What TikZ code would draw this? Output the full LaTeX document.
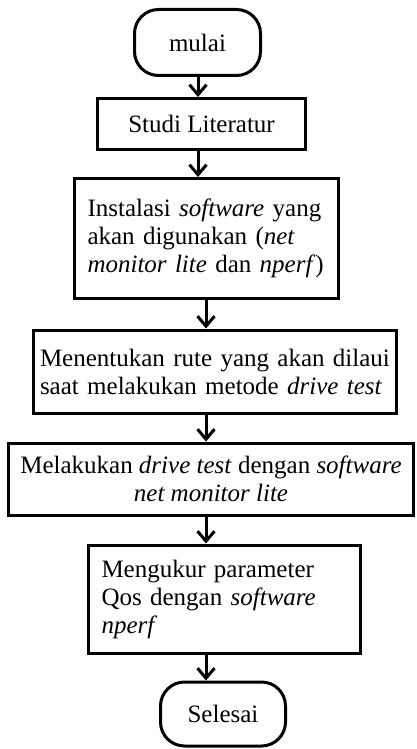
\documentclass[tikz,border=0pt]{standalone}
\usepackage{fontspec}
\setmainfont{Liberation Serif}
\usetikzlibrary{positioning}
\usetikzlibrary{arrows.meta}

\begin{document}
\begin{tikzpicture}[x=1pt,y=-1pt,->,>={Straight Barb[length=10pt,width=17pt]},line width=3pt,font=\fontsize{25}{28}\selectfont,term node/.style={rectangle,rounded corners=24pt,draw},step node/.style={rectangle,draw,inner xsep=10pt}]
\useasboundingbox (0,0) rectangle (417,749);
\node[term node,minimum width=126pt,minimum height=66pt] (mulai) at (197.5,42.5) {mulai};
\node[step node,minimum width=208pt,minimum height=51pt] (studi) [below = 20pt of mulai, xshift=4pt] {Studi Literatur};
\node[step node,minimum width=264pt,minimum height=120pt,text width=238pt,align=left] (instalasi) [below = 26pt of studi, xshift=5pt] {Instalasi \textit{software} yang\\ akan digunakan (\textit{net}\\ \textit{monitor lite} dan \textit{nperf})};
\node[step node,minimum width=363pt,minimum height=83pt,inner xsep=4pt,text width=350pt,align=left] (rute) [below = 28.5pt of instalasi, xshift=8.5pt] {Menentukan rute yang akan dilaui\\ saat melakukan metode \textit{drive test}};
\node[step node,minimum width=405pt,minimum height=72pt,inner xsep=4pt,align=center] (drivetest) [below = 27pt of rute, xshift=-4pt] {Melakukan \textit{drive test} dengan \textit{software}\\ \textit{net monitor lite}};
\node[step node,minimum width=272pt,minimum height=108pt,text width=246pt,align=left] (qos) [below = 27pt of drivetest, xshift=13.5pt] {Mengukur parameter\\ Qos dengan \textit{software}\\ \textit{nperf}};
\node[term node,minimum width=125pt,minimum height=64pt] (selesai) [below = 26pt of qos, xshift=-1.5pt] {Selesai};

\coordinate (colA) at (198,0);
\coordinate (colB) at (206,0);
\draw[->] (mulai.south -| colA) -- (studi.north -| colA);
\draw[->] (studi.south -| colA) -- (instalasi.north -| colA);
\draw[->] (instalasi.south -| colB) -- (rute.north -| colB);
\draw[->] (rute.south -| colB) -- (drivetest.north -| colB);
\draw[->] (drivetest.south -| colB) -- (qos.north -| colB);
\draw[->] (qos.south -| colB) -- (selesai.north -| colB);
\end{tikzpicture}
\end{document}
